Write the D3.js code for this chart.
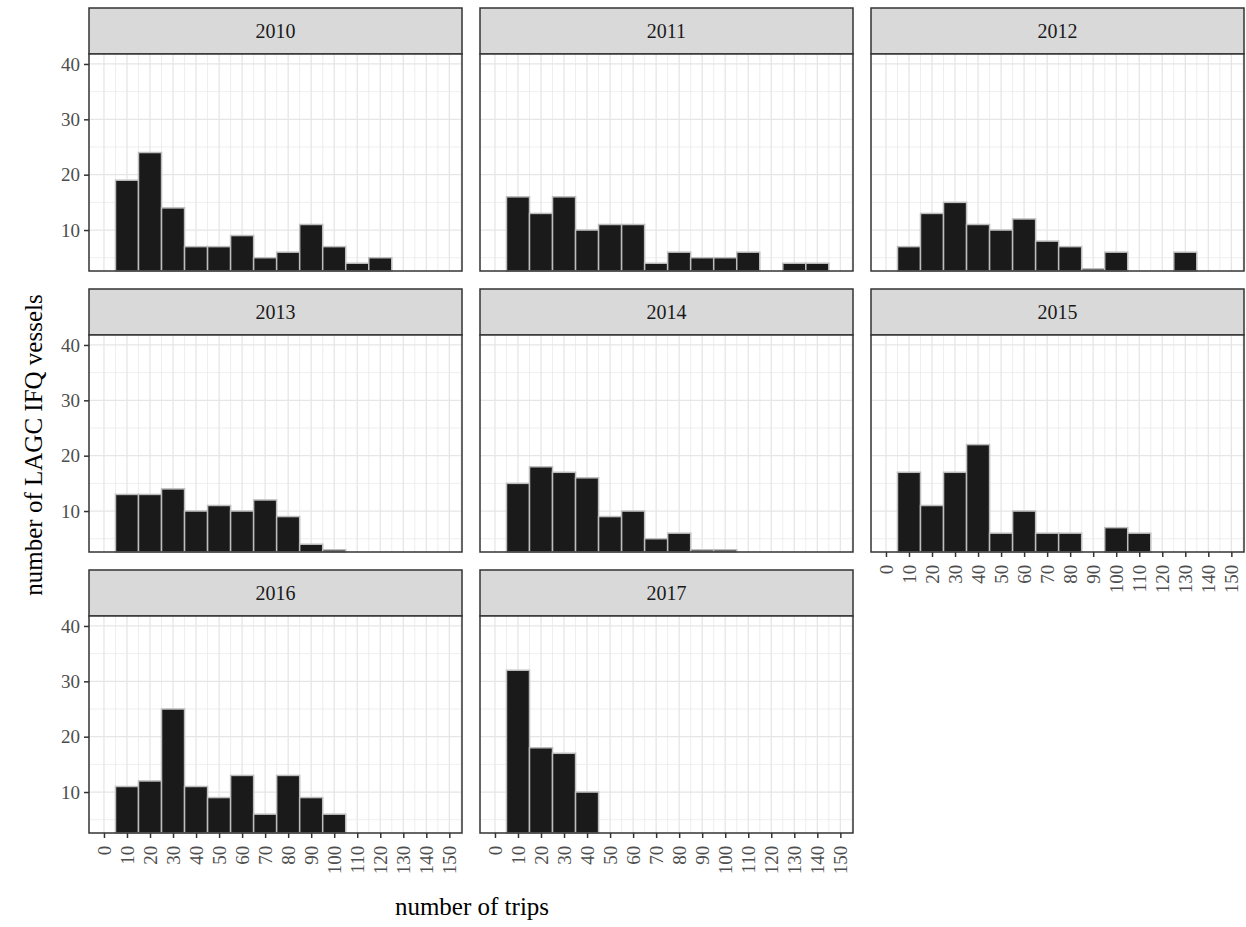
<!DOCTYPE html>
<html><head><meta charset="utf-8">
<script src="https://cdn.jsdelivr.net/npm/d3@7"></script>
<style>body{margin:0;background:#fff}</style>
</head><body><div id="chart"></div>
<script>
var years = ["2010","2011","2012","2013","2014","2015","2016","2017"];
var bins = [10,20,30,40,50,60,70,80,90,100,110,120,130,140];
var counts = {
  "2010": [19,24,14,7,7,9,5,6,11,7,4,5,0,0],
  "2011": [16,13,16,10,11,11,4,6,5,5,6,0,4,4],
  "2012": [7,13,15,11,10,12,8,7,3,6,0,0,6,0],
  "2013": [13,13,14,10,11,10,12,9,4,3,0,0,0,0],
  "2014": [15,18,17,16,9,10,5,6,3,3,0,0,0,0],
  "2015": [17,11,17,22,6,10,6,6,0,7,6,0,0,0],
  "2016": [11,12,25,11,9,13,6,13,9,6,0,0,0,0],
  "2017": [32,18,17,10,0,0,0,0,0,0,0,0,0,0]
};
var xTicks = d3.range(0,151,10);
var yTicks = [10,20,30,40];

var svg = d3.select("#chart").append("svg").attr("width",1246).attr("height",927)
  .style("font-family","'Liberation Serif', 'DejaVu Serif', serif");

var colX = [89,480,871], pw = 373;
var rowTop = [8,289,570], stripH = 46, ph = 217;

var x = d3.scaleLinear().domain([-6.5,155.5]).range([0,pw]);
var y = d3.scaleLinear().domain([2.6,41.8]).range([ph,0]);

years.forEach(function(yr,i){
  var r = Math.floor(i/3), c = i%3;
  var g = svg.append("g").attr("transform",`translate(${colX[c]},${rowTop[r]})`);
  g.append("rect").attr("width",pw).attr("height",stripH).attr("fill","#d9d9d9").attr("stroke","#333").attr("stroke-width",1.5);
  g.append("text").attr("x",pw/2).attr("y",stripH/2+7).attr("text-anchor","middle").attr("font-size",20).attr("fill","#1a1a1a").text(yr);
  var p = g.append("g").attr("transform",`translate(0,${stripH})`);
  p.append("rect").attr("width",pw).attr("height",ph).attr("fill","#fff");
  // grid
  p.selectAll(".vg").data(d3.range(0,156,5)).enter().append("line")
    .attr("x1",d=>x(d)).attr("x2",d=>x(d)).attr("y1",0).attr("y2",ph)
    .attr("stroke","#e6e6e6").attr("stroke-width",d=>d%10===0?1.3:0.7);
  p.selectAll(".hg").data(d3.range(5,42,5)).enter().append("line")
    .attr("x1",0).attr("x2",pw).attr("y1",d=>y(d)).attr("y2",d=>y(d))
    .attr("stroke","#e6e6e6").attr("stroke-width",d=>d%10===0?1.3:0.7);
  // bars
  p.selectAll(".bar").data(bins.map((b,j)=>({b:b,v:counts[yr][j]})).filter(d=>d.v>0)).enter().append("rect")
    .attr("x",d=>x(d.b-5)).attr("width",x(10)-x(0))
    .attr("y",d=>y(d.v)).attr("height",d=>ph-y(d.v))
    .attr("fill","#1a1a1a").attr("stroke","#bdbdbd").attr("stroke-width",1.5);
  p.append("rect").attr("width",pw).attr("height",ph).attr("fill","none").attr("stroke","#333").attr("stroke-width",1.5);
  if (c===0) {
    var ya = p.append("g").call(d3.axisLeft(y).tickValues(yTicks).tickSize(5).tickPadding(4));
    ya.select(".domain").remove();
    ya.selectAll("line").attr("stroke","#333").attr("stroke-width",1.5);
    ya.selectAll("text").attr("font-size",19).attr("fill","#4d4d4d").style("font-family","'Liberation Serif', serif");
  }
  if (r===2 || i===5) {
    var xa = p.append("g").attr("transform",`translate(0,${ph})`).call(d3.axisBottom(x).tickValues(xTicks).tickSize(5));
    xa.select(".domain").remove();
    xa.selectAll("line").attr("stroke","#333").attr("stroke-width",1.5);
    xa.selectAll("text").attr("font-size",19).attr("fill","#4d4d4d").style("font-family","'Liberation Serif', serif")
      .attr("text-anchor","end").attr("x",0).attr("y",0).attr("dx","-0.3em").attr("dy","0.35em")
      .attr("transform","translate(0,7) rotate(-90)");
  }
});

svg.append("text").attr("x",472).attr("y",915).attr("text-anchor","middle").attr("font-size",25).attr("fill","#000").text("number of trips");
svg.append("text").attr("transform","translate(42,445) rotate(-90)").attr("text-anchor","middle").attr("font-size",25).attr("fill","#000").text("number of LAGC IFQ vessels");
</script></body></html>
